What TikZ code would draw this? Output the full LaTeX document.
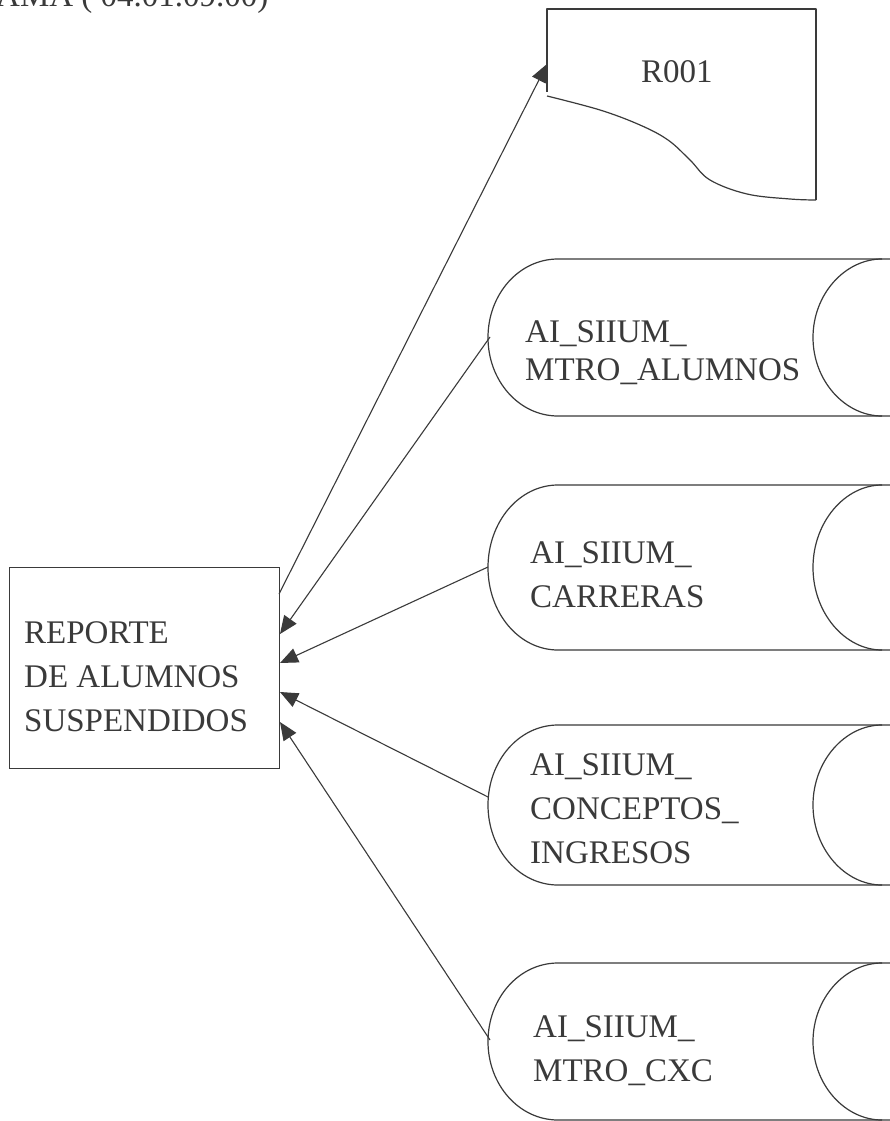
\documentclass[tikz,border=0pt]{standalone}
\usepackage{fontspec}
\setmainfont{Liberation Serif}
\usetikzlibrary{arrows.meta}
\definecolor{ink}{HTML}{3A3A3A}
\tikzset{
  ln/.style={draw=ink, line width=1.2pt, line join=round},
  conn/.style={draw=ink, line width=1.1pt, -{Triangle[length=18pt,width=15pt]}},
  txt/.style={text=ink, font=\fontsize{33}{44}\selectfont, align=left, inner sep=0pt, anchor=north west},
}
\newcommand{\dbshape}[2]{%
  \pgfmathsetmacro\mm{(#1+#2)/2}%
  \pgfmathsetmacro\rr{(#2-#1)/2}%
  \pgfmathsetmacro\kk{0.552*\rr}%
  \draw[ln] (900,#1) -- (558,#1) .. controls (519,#1) and (488,\mm-\kk) .. (488,\mm)
    .. controls (488,\mm+\kk) and (519,#2) .. (558,#2) -- (900,#2);
  \draw[ln] (882,#1) .. controls (845,#1) and (813,\mm-\kk) .. (813,\mm)
    .. controls (813,\mm+\kk) and (845,#2) .. (882,#2);
}
\begin{document}
\begin{tikzpicture}[x=1pt,y=-1pt]
\useasboundingbox (0,0) rectangle (890,1121);
\clip (0,0) rectangle (890,1121);
\fill[white] (0,0) rectangle (890,1121);

% title fragment (cut off at top)
\node[text=ink, font=\fontsize{33}{40}\selectfont, inner sep=0pt, anchor=base west] (title) at (-4,7) {AMA ( 04.01.09.00)};

% report document R001
\draw[ln] (547,92) -- (547,9) -- (816,9) -- (816,200);
\draw[ln] plot[smooth, tension=0.6] coordinates {(547,96) (600,110) (640,125) (668,140) (690,160) (710,180) (747,194) (790,199) (816,200)};
\node[txt, anchor=base west] (r001) at (641,83) {R001};
\coordinate (rin) at (547,64);

% process box
\node[draw=ink, line width=1.2pt, minimum width=270pt, minimum height=201pt, inner sep=0pt, anchor=north west] (rep) at (9,567) {};
\node[txt] (reptxt) at (24,621) {REPORTE\\DE ALUMNOS\\SUSPENDIDOS};
\coordinate (rout) at (279,594);
\coordinate (r1) at (280,634);
\coordinate (r2) at (280,663);
\coordinate (r3) at (280,692);
\coordinate (r4) at (280,722);

% data stores
\dbshape{259}{416}
\node[txt, font=\fontsize{33}{38}\selectfont] (d1) at (525,320) {AI\_SIIUM\_\\MTRO\_ALUMNOS};
\coordinate (c1) at (490,337);
\dbshape{485}{650}
\node[txt] (d2) at (530,541) {AI\_SIIUM\_\\CARRERAS};
\coordinate (c2) at (488,567);
\dbshape{725}{885}
\node[txt] (d3) at (530,753) {AI\_SIIUM\_\\CONCEPTOS\_\\INGRESOS};
\coordinate (c3) at (488,797);
\dbshape{963}{1120}
\node[txt] (d4) at (533,1015) {AI\_SIIUM\_\\MTRO\_CXC};
\coordinate (c4) at (490,1040);

% connectors
\draw[conn] (rout) -- (rin);
\draw[conn] (c1) -- (r1);
\draw[conn] (c2) -- (r2);
\draw[conn] (c3) -- (r3);
\draw[conn] (c4) -- (r4);
\end{tikzpicture}
\end{document}
